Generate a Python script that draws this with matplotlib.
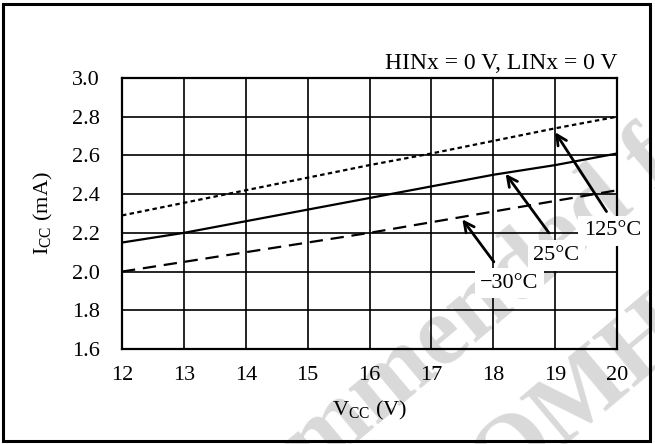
import matplotlib
matplotlib.use("Agg")
import matplotlib.pyplot as plt
from matplotlib.patches import Rectangle
import numpy as np

plt.rcParams['font.family'] = ['Liberation Serif', 'DejaVu Serif']
plt.rcParams['mathtext.fontset'] = 'custom'
plt.rcParams['mathtext.rm'] = 'Liberation Serif'

# ---- data ----
vcc = [12, 13, 14, 15, 16, 17, 18, 19, 20]
icc_125 = [2.29, 2.355, 2.42, 2.485, 2.55, 2.61, 2.675, 2.74, 2.80]
icc_25 = [2.15, 2.20, 2.26, 2.32, 2.38, 2.44, 2.50, 2.55, 2.61]
icc_m30 = [2.00, 2.05, 2.10, 2.15, 2.20, 2.255, 2.31, 2.365, 2.42]
x_ticks = [12, 13, 14, 15, 16, 17, 18, 19, 20]
y_ticks = [1.6, 1.8, 2.0, 2.2, 2.4, 2.6, 2.8, 3.0]
y_ticklabels = ["1.6", "1.8", "2.0", "2.2", "2.4", "2.6", "2.8", "3.0"]
labels = ["125°C", "25°C", "\u221230°C"]

W, H = 655, 444
fig = plt.figure(figsize=(W / 100, H / 100), dpi=100)
ax = fig.add_axes([122 / W, (H - 349) / H, (617 - 122) / W, (349 - 78) / H])
ax.set_facecolor('none')

ax.set_xlim(12, 20)
ax.set_ylim(1.6, 3.0)
ax.set_xticks(x_ticks)
ax.set_yticks(y_ticks)
ax.set_yticklabels(y_ticklabels)
ax.tick_params(axis='both', length=0, labelsize=16)
ax.tick_params(axis='x', pad=12)
ax.tick_params(axis='y', pad=16)
ax.grid(True, color='black', linewidth=1.2, zorder=1)
ax.set_axisbelow(True)
for s in ax.spines.values():
    s.set_linewidth(1.6)
    s.set_zorder(2)

ax.plot(vcc, icc_125, color='black', linewidth=1.6, linestyle=(0, (2, 1.5)), zorder=3)
ax.plot(vcc, icc_25, color='black', linewidth=1.6, linestyle='-', zorder=3)
ax.plot(vcc, icc_m30, color='black', linewidth=1.6, linestyle=(0, (6, 3.5)), zorder=3)

ax.set_xlabel("$\\mathregular{V_{CC}}$ (V)", fontsize=16, labelpad=10)
ax.set_ylabel("$\\mathregular{I_{CC}}$ (mA)", fontsize=16, labelpad=12)

ax.text(1.0, 1.015, "HINx = 0 V, LINx = 0 V", transform=ax.transAxes,
        ha='right', va='bottom', fontsize=17)

arrow_kw = dict(arrowstyle='->', color='black', lw=2.0, mutation_scale=18,
                shrinkA=0, shrinkB=0)
ax.annotate("", xy=(19.0, 2.72), xytext=(19.83, 2.31), arrowprops=arrow_kw, zorder=5)
ax.annotate("", xy=(18.2, 2.505), xytext=(18.9, 2.20), arrowprops=arrow_kw, zorder=5)
ax.annotate("", xy=(17.5, 2.27), xytext=(18.01, 2.05), arrowprops=arrow_kw, zorder=5)

box = dict(facecolor='white', edgecolor='none', boxstyle='square,pad=0.25')
ax.text(19.93, 2.21, labels[0], ha='center', va='center', fontsize=16,
        bbox=box, zorder=6, clip_on=False)
ax.text(19.02, 2.083, labels[1], ha='center', va='center', fontsize=16,
        bbox=box, zorder=6, clip_on=False)
ax.text(18.26, 1.94, labels[2], ha='center', va='center', fontsize=16,
        bbox=box, zorder=6, clip_on=False)

# watermark (behind the chart)
fig.text(36 / W, -268 / H, "Not recommended for new design", transform=fig.transFigure,
         rotation=40, rotation_mode='anchor', ha='left', va='baseline',
         fontsize=72, fontweight='bold', family='Liberation Serif',
         color='#d9d9d9', zorder=-1)
fig.text(596 / W, 29 / H, "OMH", transform=fig.transFigure,
         rotation=40, rotation_mode='anchor', ha='center', va='baseline',
         fontsize=72, fontweight='bold', family='Liberation Serif',
         color='#d9d9d9', zorder=-1)

# figure border
fig.patches.append(Rectangle((3 / W, 3 / H), (650 - 3) / W, (440 - 3) / H,
                             transform=fig.transFigure, fill=False,
                             edgecolor='black', linewidth=2.2))

fig.savefig("out.png", dpi=100)
